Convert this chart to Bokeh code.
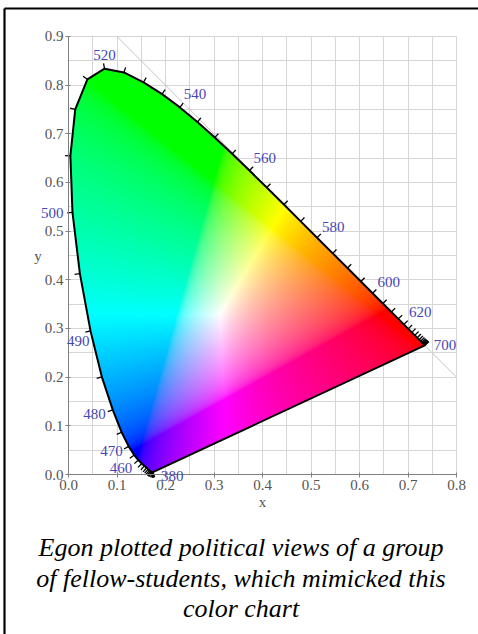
import numpy as np
from bokeh.plotting import figure
from bokeh.models import Range1d, Label, FixedTicker, PrintfTickFormatter, Grid
from bokeh.embed import file_html
from bokeh.resources import INLINE

# ---------------- data (CIE 1931 spectral locus) ----------------
wavelengths = [380, 385, 390, 395, 400, 405, 410, 415, 420, 425, 430, 435, 440, 445,
               450, 455, 460, 465, 470, 475, 480, 485, 490, 495, 500, 505, 510, 515,
               520, 525, 530, 535, 540, 545, 550, 555, 560, 565, 570, 575, 580, 585,
               590, 595, 600, 605, 610, 615, 620, 625, 630, 635, 640, 645, 650, 655,
               660, 665, 670, 675, 680, 685, 690, 695, 700]
locus_x = [0.1741, 0.1740, 0.1738, 0.1736, 0.1733, 0.1730, 0.1726, 0.1721, 0.1714, 0.1703,
           0.1689, 0.1669, 0.1644, 0.1611, 0.1566, 0.1510, 0.1440, 0.1355, 0.1241, 0.1096,
           0.0913, 0.0687, 0.0454, 0.0235, 0.0082, 0.0039, 0.0139, 0.0389, 0.0743, 0.1142,
           0.1547, 0.1929, 0.2296, 0.2658, 0.3016, 0.3373, 0.3731, 0.4087, 0.4441, 0.4788,
           0.5125, 0.5448, 0.5752, 0.6029, 0.6270, 0.6482, 0.6658, 0.6801, 0.6915, 0.7006,
           0.7079, 0.7140, 0.7190, 0.7230, 0.7260, 0.7283, 0.7300, 0.7311, 0.7320, 0.7327,
           0.7334, 0.7340, 0.7344, 0.7346, 0.7347]
locus_y = [0.0050, 0.0050, 0.0049, 0.0049, 0.0048, 0.0048, 0.0048, 0.0048, 0.0051, 0.0058,
           0.0069, 0.0086, 0.0109, 0.0138, 0.0177, 0.0227, 0.0297, 0.0399, 0.0578, 0.0868,
           0.1327, 0.2007, 0.2950, 0.4127, 0.5384, 0.6548, 0.7502, 0.8120, 0.8338, 0.8262,
           0.8059, 0.7816, 0.7543, 0.7243, 0.6923, 0.6589, 0.6245, 0.5896, 0.5547, 0.5202,
           0.4866, 0.4544, 0.4242, 0.3965, 0.3725, 0.3514, 0.3340, 0.3197, 0.3083, 0.2993,
           0.2920, 0.2859, 0.2809, 0.2770, 0.2740, 0.2717, 0.2700, 0.2689, 0.2680, 0.2673,
           0.2666, 0.2660, 0.2656, 0.2654, 0.2653]

labelled_wavelengths = [380, 460, 470, 480, 490, 500, 520, 540, 560, 580, 600, 620, 700]
x_tick_values = [0.0, 0.1, 0.2, 0.3, 0.4, 0.5, 0.6, 0.7, 0.8]
y_tick_values = [0.0, 0.1, 0.2, 0.3, 0.4, 0.5, 0.6, 0.7, 0.8, 0.9]
minor_tick_values = [0.05, 0.15, 0.25, 0.35, 0.45, 0.55, 0.65, 0.75, 0.85]
x_axis_title = "x"
y_axis_title = "y"
caption_lines = ["Egon plotted political views of a group",
                 "of fellow-students, which mimicked this",
                 "color chart"]

# label placement styles: (align, x_offset px, y_offset px)
label_style = {380: ("left", 8, -4), 460: ("right", -6, -8), 470: ("right", -6, -5),
               480: ("right", -7, -4), 490: ("right", -1, -10), 500: ("right", -9, -1),
               520: ("center", 0, 14), 540: ("left", 4, 13), 560: ("left", 4, 13),
               580: ("left", 5, 11), 600: ("left", 5, 11), 620: ("left", 5, 12),
               700: ("left", 9, 0)}

# ---------------- figure: the frame fills the canvas, axes sit at x=0 / y=0 ----------------
W, H = 478, 634
X0_PX, X_SCALE = 68, 485.0        # canvas px of x=0, px per unit
Y0_PX, Y_SCALE = 474, 486.67      # canvas px (from top) of y=0, px per unit
x_start = -X0_PX / X_SCALE
x_end = (W - X0_PX) / X_SCALE
y_start = -(H - Y0_PX) / Y_SCALE
y_end = Y0_PX / Y_SCALE

p = figure(width=W, height=H, x_range=Range1d(x_start, x_end), y_range=Range1d(y_start, y_end),
           output_backend="svg", toolbar_location=None, min_border=0)
p.outline_line_color = None
p.background_fill_color = "white"
p.border_fill_color = "white"

for ax, ticks, bnds in ((p.xaxis[0], x_tick_values, (0, 0.8)),
                        (p.yaxis[0], y_tick_values, (0, 0.9))):
    ax.fixed_location = 0
    ax.bounds = bnds
    ax.ticker = FixedTicker(ticks=ticks, minor_ticks=minor_tick_values)
    ax.formatter = PrintfTickFormatter(format="%.1f")
    ax.axis_line_color = "#808080"
    ax.major_tick_line_color = "#808080"
    ax.minor_tick_line_color = None
    ax.major_tick_in = 2
    ax.major_tick_out = 3
    ax.major_label_standoff = 1
    ax.major_label_text_font = "Liberation Serif"
    ax.major_label_text_font_size = "15px"
    ax.major_label_text_color = "#555555"
    ax.axis_label_text_font = "Liberation Serif"
    ax.axis_label_text_font_size = "15px"
    ax.axis_label_text_font_style = "normal"
    ax.axis_label_text_color = "#555555"

p.xaxis.axis_label = x_axis_title
p.xaxis.axis_label_standoff = 1
p.yaxis.axis_label = y_axis_title
p.yaxis.axis_label_orientation = "horizontal"
p.yaxis.axis_label_standoff = 0

has_cross = "cross_bounds" in Grid.properties()
for g, ticks, cb in ((p.xgrid[0], x_tick_values, (0, 0.9)), (p.ygrid[0], y_tick_values, (0, 0.8))):
    g.ticker = FixedTicker(ticks=ticks, minor_ticks=minor_tick_values)
    g.grid_line_color = "#d6d6d6"
    g.minor_grid_line_color = "#d6d6d6"
    g.level = "underlay"
    if has_cross:
        g.cross_bounds = cb

# page frame lines (left and top edge of the picture)
fx = x_start + 4 / X_SCALE
fy = y_end - 8 / Y_SCALE
p.segment(x0=[fx, fx], y0=[fy, fy], x1=[fx, x_end], y1=[y_start, fy],
          line_color="black", line_width=2.2)

# ---------------- gamut fill (colour of each chromaticity) ----------------
lx = np.array(locus_x)
ly = np.array(locus_y)
nx, ny = 388, 438
gx = (np.arange(nx) + 0.5) / nx * 0.8
gy = (np.arange(ny) + 0.5) / ny * 0.9
GX, GY = np.meshgrid(gx, gy)

inside = np.zeros(GX.shape, dtype=bool)
n = len(lx)
j = n - 1
for i in range(n):
    xi, yi, xj, yj = lx[i], ly[i], lx[j], ly[j]
    cond = (yi > GY) != (yj > GY)
    if yj != yi:
        xint = (xj - xi) * (GY - yi) / (yj - yi) + xi
        inside ^= cond & (GX < xint)
    j = i

Ys = np.maximum(GY, 1e-4)
Xc = GX / Ys
Zc = (1 - GX - GY) / Ys
R = 3.2406 * Xc - 1.5372 - 0.4986 * Zc
G = -0.9689 * Xc + 1.8758 + 0.0415 * Zc
B = 0.0557 * Xc - 0.2040 + 1.0570 * Zc
rgb = np.clip(np.stack([R, G, B], axis=-1), 0, None)
rgb /= np.maximum(rgb.max(axis=-1, keepdims=True), 1e-9)
rgb = np.where(rgb <= 0.0031308, 12.92 * rgb, 1.055 * np.power(rgb, 1 / 2.4) - 0.055)
rgb8 = np.clip(np.round(rgb * 255), 0, 255).astype(np.uint8)

img = np.zeros((ny, nx), dtype=np.uint32)
view = img.view(dtype=np.uint8).reshape((ny, nx, 4))
view[..., 0] = rgb8[..., 0]
view[..., 1] = rgb8[..., 1]
view[..., 2] = rgb8[..., 2]
view[..., 3] = np.where(inside, 255, 0)

# grid drawn manually only if the Grid model cannot limit its cross extent
if not has_cross:
    p.xgrid.visible = False
    p.ygrid.visible = False
    vx = sorted(x_tick_values + [v for v in minor_tick_values if v < 0.8])
    hy = sorted(y_tick_values + minor_tick_values)
    p.segment(x0=vx, y0=[0] * len(vx), x1=vx, y1=[0.9] * len(vx), line_color="#d6d6d6")
    p.segment(x0=[0] * len(hy), y0=hy, x1=[0.8] * len(hy), y1=hy, line_color="#d6d6d6")

# x + y = 1 guide line
p.line([0.1, 0.8], [0.9, 0.2], line_color="#c4c4c4", line_width=1)

p.image_rgba(image=[img], x=0, y=0, dw=0.8, dh=0.9)

# outline of the horseshoe (spectral locus + purple line)
p.line(list(locus_x) + [locus_x[0]], list(locus_y) + [locus_y[0]],
       line_color="black", line_width=2)

# 5 nm tick marks, pointing outward
dx = np.gradient(lx)
dy = np.gradient(ly)
norm = np.hypot(dx, dy)
norm[norm == 0] = 1
ox, oy = -dy / norm, dx / norm
tick_len = 0.011
p.segment(x0=lx, y0=ly, x1=lx + ox * tick_len, y1=ly + oy * tick_len,
          line_color="black", line_width=1.3)

# wavelength labels
for wl in labelled_wavelengths:
    k = wavelengths.index(wl)
    align, xo, yo = label_style[wl]
    p.add_layout(Label(x=locus_x[k], y=locus_y[k], text=str(wl), x_offset=xo, y_offset=yo,
                       text_align=align, text_baseline="middle",
                       text_font="Liberation Serif", text_font_size="15px",
                       text_color="#4646b4"))

# caption
caption_y = [-0.150, -0.2135, -0.275]
for line_text, cy in zip(caption_lines, caption_y):
    p.add_layout(Label(x=0.3557, y=cy, text=line_text, text_align="center",
                       text_baseline="middle", text_font="Liberation Serif",
                       text_font_style="italic", text_font_size="26px",
                       text_color="black"))

open("out.html", "w").write(file_html(p, INLINE))
